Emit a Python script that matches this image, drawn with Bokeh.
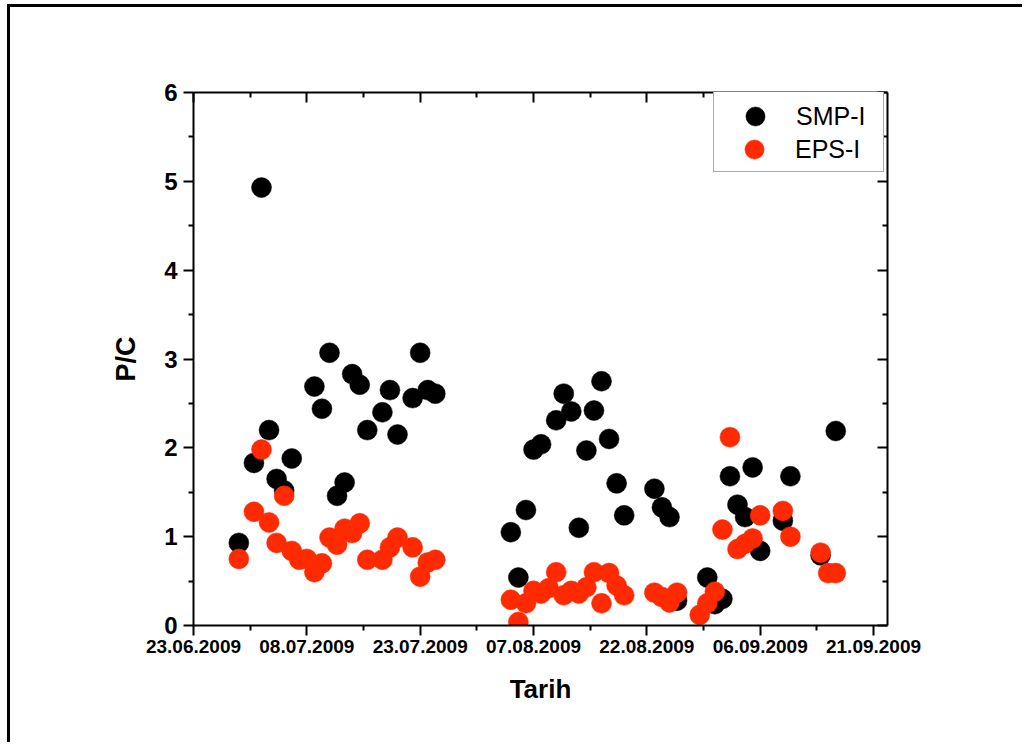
import pandas as pd
from bokeh.plotting import figure
from bokeh.models import (FixedTicker, DatetimeTickFormatter, LinearAxis, DatetimeAxis,
                          Range1d, Legend, LegendItem)
from bokeh.embed import file_html
from bokeh.resources import INLINE

# ---------------- data ----------------
smp_dates = ["2009-06-29", "2009-07-01", "2009-07-02", "2009-07-03", "2009-07-04", "2009-07-05",
             "2009-07-06", "2009-07-09", "2009-07-10", "2009-07-11", "2009-07-12", "2009-07-13",
             "2009-07-14", "2009-07-15", "2009-07-16", "2009-07-18", "2009-07-19", "2009-07-20",
             "2009-07-22", "2009-07-23", "2009-07-24", "2009-07-25",
             "2009-08-04", "2009-08-05", "2009-08-06", "2009-08-07", "2009-08-08", "2009-08-10",
             "2009-08-11", "2009-08-12", "2009-08-13", "2009-08-14", "2009-08-15", "2009-08-16",
             "2009-08-17", "2009-08-18", "2009-08-19", "2009-08-23", "2009-08-24", "2009-08-25",
             "2009-08-26", "2009-08-30", "2009-08-31", "2009-09-01", "2009-09-02", "2009-09-03",
             "2009-09-04", "2009-09-05", "2009-09-06", "2009-09-09", "2009-09-10", "2009-09-14",
             "2009-09-16"]
smp_values = [0.93, 1.83, 4.93, 2.20, 1.65, 1.52,
              1.88, 2.69, 2.44, 3.07, 1.46, 1.61,
              2.83, 2.71, 2.20, 2.40, 2.65, 2.15,
              2.56, 3.07, 2.65, 2.61,
              1.05, 0.54, 1.30, 1.98, 2.04, 2.31,
              2.61, 2.41, 1.10, 1.97, 2.42, 2.75,
              2.10, 1.60, 1.24, 1.54, 1.33, 1.22,
              0.28, 0.54, 0.24, 0.30, 1.68, 1.36,
              1.22, 1.78, 0.84, 1.18, 1.68, 0.79,
              2.19]

eps_dates = ["2009-06-29", "2009-07-01", "2009-07-02", "2009-07-03", "2009-07-04", "2009-07-05",
             "2009-07-06", "2009-07-07", "2009-07-08", "2009-07-09", "2009-07-10", "2009-07-11",
             "2009-07-12", "2009-07-13", "2009-07-14", "2009-07-15", "2009-07-16", "2009-07-18",
             "2009-07-19", "2009-07-20", "2009-07-22", "2009-07-23", "2009-07-24", "2009-07-25",
             "2009-08-04", "2009-08-05", "2009-08-06", "2009-08-07", "2009-08-08", "2009-08-09",
             "2009-08-10", "2009-08-11", "2009-08-12", "2009-08-13", "2009-08-14", "2009-08-15",
             "2009-08-16", "2009-08-17", "2009-08-18", "2009-08-19", "2009-08-23", "2009-08-24",
             "2009-08-25", "2009-08-26", "2009-08-29", "2009-08-30", "2009-08-31", "2009-09-01",
             "2009-09-02", "2009-09-03", "2009-09-04", "2009-09-05", "2009-09-06", "2009-09-09",
             "2009-09-10", "2009-09-14", "2009-09-15", "2009-09-16"]
eps_values = [0.75, 1.28, 1.98, 1.16, 0.93, 1.46,
              0.84, 0.74, 0.75, 0.60, 0.70, 0.99,
              0.91, 1.09, 1.04, 1.15, 0.74, 0.74,
              0.88, 0.99, 0.88, 0.55, 0.71, 0.74,
              0.29, 0.04, 0.25, 0.39, 0.36, 0.42,
              0.60, 0.34, 0.39, 0.36, 0.43, 0.60,
              0.25, 0.59, 0.45, 0.34, 0.37, 0.32,
              0.26, 0.37, 0.12, 0.25, 0.38, 1.08,
              2.12, 0.86, 0.92, 0.98, 1.24, 1.29,
              1.00, 0.82, 0.59, 0.59]

tick_dates = ["2009-06-23", "2009-07-08", "2009-07-23", "2009-08-07",
              "2009-08-22", "2009-09-06", "2009-09-21"]
y_ticks = [0, 1, 2, 3, 4, 5, 6]
y_minor = [0.5, 1.5, 2.5, 3.5, 4.5, 5.5]

series_names = ["SMP-I", "EPS-I"]
series_colors = ["#000000", "#ff2a00"]

# ---------------- helpers ----------------
def ms(d):
    return pd.Timestamp(d).timestamp() * 1000.0

x_start = ms("2009-06-23")
day_ms = 86400000.0
x_end = x_start + 91.85 * day_ms

major_x = [ms(d) for d in tick_dates]
minor_x = [(a + b) / 2 for a, b in zip(major_x[:-1], major_x[1:])]

FONT = "Liberation Sans"

p = figure(width=1015, height=738, output_backend="svg", toolbar_location=None,
           x_axis_type="datetime", x_range=Range1d(x_start, x_end), y_range=Range1d(0, 6),
           min_border_left=183, min_border_right=138, min_border_top=85, min_border_bottom=120)
p.styles = {"border-top": "3px solid black", "border-left": "3px solid black",
            "margin-top": "4px", "margin-left": "7px"}
p.xgrid.visible = False
p.ygrid.visible = False
p.outline_line_color = None
p.background_fill_color = "white"
p.border_fill_color = "white"

xt = FixedTicker(ticks=major_x, minor_ticks=minor_x)
yt = FixedTicker(ticks=y_ticks, minor_ticks=y_minor)
fmt_str = "%d.%m.%Y"
xfmt = DatetimeTickFormatter(milliseconds=fmt_str, seconds=fmt_str, minsec=fmt_str, minutes=fmt_str,
                             hourmin=fmt_str, hours=fmt_str, days=fmt_str, months=fmt_str,
                             years=fmt_str)

def style_axis(ax, inward):
    ax.axis_line_width = 2
    ax.major_tick_line_width = 2
    ax.minor_tick_line_width = 2
    ax.axis_line_color = "black"
    ax.major_tick_line_color = "black"
    ax.minor_tick_line_color = "black"
    ax.major_label_text_color = "black"
    ax.axis_label_text_color = "black"
    if inward:
        ax.major_tick_in, ax.major_tick_out = 10, 0
        ax.minor_tick_in, ax.minor_tick_out = 5, 0
        ax.major_label_text_font_size = "0px"
        ax.major_label_text_color = None
    else:
        ax.major_tick_in, ax.major_tick_out = 0, 10
        ax.minor_tick_in, ax.minor_tick_out = 0, 5

xa = p.xaxis[0]
xa.ticker = xt
xa.formatter = xfmt
style_axis(xa, False)
xa.major_label_text_font = FONT
xa.major_label_text_font_style = "bold"
xa.major_label_text_font_size = "19px"
xa.major_label_standoff = 4
xa.axis_label = "Tarih"
xa.axis_label_text_font = FONT
xa.axis_label_text_font_style = "bold"
xa.axis_label_text_font_size = "26px"
xa.axis_label_standoff = 18

ya = p.yaxis[0]
ya.ticker = yt
style_axis(ya, False)
ya.major_label_text_font = FONT
ya.major_label_text_font_style = "bold"
ya.major_label_text_font_size = "24px"
ya.major_label_standoff = 6
ya.axis_label = "P/C"
ya.axis_label_text_font = FONT
ya.axis_label_text_font_style = "bold"
ya.axis_label_text_font_size = "27px"
ya.axis_label_standoff = 20

ra = LinearAxis(ticker=FixedTicker(ticks=y_ticks, minor_ticks=y_minor))
style_axis(ra, True)
p.add_layout(ra, "right")
ta = DatetimeAxis(ticker=FixedTicker(ticks=major_x, minor_ticks=minor_x), formatter=xfmt)
style_axis(ta, True)
p.add_layout(ta, "above")

smp_x = pd.to_datetime(smp_dates)
eps_x = pd.to_datetime(eps_dates)
r1 = p.scatter(smp_x, smp_values, size=20, fill_color=series_colors[0],
               line_color=series_colors[0], line_width=0.5)
r2 = p.scatter(eps_x, eps_values, size=20, fill_color=series_colors[1],
               line_color=series_colors[1], line_width=0.5)

common = dict(margin=0, glyph_width=82, glyph_height=48, label_standoff=0, label_width=87,
              label_text_font=FONT, label_text_font_size="25px", label_text_color="black")
# legend box (with first entry)
leg1 = Legend(items=[LegendItem(label=series_names[0], renderers=[r1])],
              location=(520, 453), padding=dict(left=0, right=0, top=0, bottom=31),
              border_line_color="#555555", border_line_width=1,
              background_fill_color="white", background_fill_alpha=1.0, **common)
# second entry placed inside the same box
leg2 = Legend(items=[LegendItem(label=series_names[1], renderers=[r2])],
              location=(520, 452), padding=0,
              border_line_color=None, background_fill_alpha=0.0, **common)
p.add_layout(leg1, "center")
p.add_layout(leg2, "center")

open("out.html", "w").write(file_html(p, INLINE))
